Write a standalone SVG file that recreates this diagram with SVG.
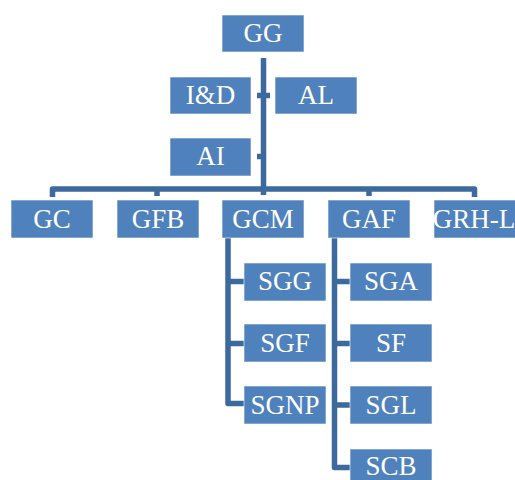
<svg xmlns="http://www.w3.org/2000/svg" width="515" height="480" viewBox="0 0 515 480">
<style>
.box{fill:#4F81BD;stroke:#ffffff;stroke-opacity:0.6;stroke-width:1}
.lbl{font-family:"Liberation Serif","Times New Roman",serif;font-size:27px;fill:#ffffff;text-anchor:middle}
.con{fill:none;stroke:#3D6A9E;stroke-width:5.5;stroke-linejoin:round;stroke-linecap:butt}
</style>
<rect width="515" height="480" fill="#ffffff"/>
<g id="connectors">
<path class="con" d="M263.5 58 V195"/>
<path class="con" d="M52.5 197 V189 H474.5 V197"/>
<path class="con" d="M157 189 V196 M369 189 V196"/>
<path class="con" d="M257 95.5 H270 M257 156.5 H263.5"/>
<path class="con" d="M228 238 V403.5 H244 M228 281.5 H244 M228 343.5 H244"/>
<path class="con" d="M334.5 238 V467.5 H350 M334.5 281.5 H350 M334.5 343.5 H350 M334.5 405 H350"/>
</g>
<g id="GG"><rect class="box" x="222" y="15" width="82" height="37"/><text class="lbl" x="263" y="42">GG</text></g>
<g id="ID"><rect class="box" x="170" y="77" width="81" height="37"/><text class="lbl" x="210.5" y="104">I&amp;D</text></g>
<g id="AL"><rect class="box" x="275" y="77" width="82" height="37"/><text class="lbl" x="316" y="104">AL</text></g>
<g id="AI"><rect class="box" x="170" y="138" width="81" height="38"/><text class="lbl" x="210.5" y="165">AI</text></g>
<g id="GC"><rect class="box" x="11" y="200" width="82" height="38"/><text class="lbl" x="52" y="228">GC</text></g>
<g id="GFB"><rect class="box" x="117" y="200" width="82" height="38"/><text class="lbl" x="158" y="228">GFB</text></g>
<g id="GCM"><rect class="box" x="222" y="200" width="82" height="38"/><text class="lbl" x="263" y="228">GCM</text></g>
<g id="GAF"><rect class="box" x="328" y="200" width="82" height="38"/><text class="lbl" x="369" y="228">GAF</text></g>
<g id="GRH-L"><rect class="box" x="434" y="200" width="82" height="38"/><text class="lbl" x="474" y="228">GRH-L</text></g>
<g id="SGG"><rect class="box" x="244" y="263" width="82" height="38"/><text class="lbl" x="285" y="290">SGG</text></g>
<g id="SGF"><rect class="box" x="244" y="324" width="82" height="38"/><text class="lbl" x="285" y="352">SGF</text></g>
<g id="SGNP"><rect class="box" x="244" y="386" width="82" height="38"/><text class="lbl" x="285" y="414">SGNP</text></g>
<g id="SGA"><rect class="box" x="350" y="263" width="82" height="38"/><text class="lbl" x="391" y="290">SGA</text></g>
<g id="SF"><rect class="box" x="350" y="324" width="82" height="38"/><text class="lbl" x="391" y="352">SF</text></g>
<g id="SGL"><rect class="box" x="350" y="386" width="82" height="38"/><text class="lbl" x="391" y="414">SGL</text></g>
<g id="SCB"><rect class="box" x="350" y="449" width="82" height="38"/><text class="lbl" x="391" y="475">SCB</text></g>
</svg>
